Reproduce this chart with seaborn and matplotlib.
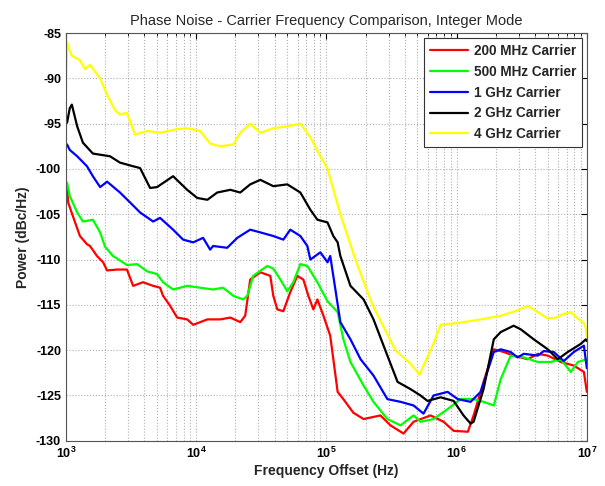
import matplotlib
matplotlib.use("Agg")
import matplotlib.pyplot as plt
import matplotlib.ticker as mticker
import pandas as pd
import seaborn as sns

# Traces (Hz, dBc/Hz)
f_200m = [1.02e3, 1.04e3, 1.13e3, 1.28e3, 1.45e3, 1.53e3, 1.73e3, 1.93e3, 2.07e3, 2.47e3, 2.94e3, 3.28e3,
          3.91e3, 4.67e3, 5.28e3, 5.57e3, 6.31e3, 7.14e3, 8.53e3, 9.49e3, 1.22e4, 1.53e4, 1.83e4, 2.18e4,
          2.38e4, 2.60e4, 3.11e4, 3.71e4, 3.91e4, 4.20e4, 4.67e4, 5.28e4, 5.98e4, 6.65e4, 7.27e4, 7.94e4,
          8.53e4, 9.49e4, 1.07e5, 1.22e5, 1.35e5, 1.61e5, 1.93e5, 2.60e5, 3.11e5, 3.91e5, 4.67e5, 6.31e5,
          7.94e5, 9.49e5, 1.22e6, 1.35e6, 1.61e6, 1.93e6, 2.30e6, 2.74e6, 3.52e6, 4.20e6, 5.01e6, 6.31e6,
          7.94e6, 9.49e6, 1.0e7]
pn_200m = [-101.9, -103.7, -105.2, -107.4, -108.3, -108.5, -109.6, -110.3, -111.2, -111.1, -111.1, -112.9,
           -112.5, -112.9, -113.1, -114.0, -115.1, -116.4, -116.6, -117.2, -116.6, -116.6, -116.4, -116.9,
           -116.2, -112.2, -111.4, -111.8, -114.0, -115.5, -115.7, -113.6, -111.8, -112.2, -114.0, -115.5,
           -114.4, -116.2, -118.4, -124.6, -125.4, -126.9, -127.6, -127.2, -128.3, -129.2, -127.9, -127.2,
           -127.9, -128.9, -129.0, -127.2, -123.5, -119.9, -120.2, -120.6, -121.0, -120.4, -120.6, -121.3,
           -121.7, -122.4, -124.6]

f_500m = [1.02e3, 1.07e3, 1.22e3, 1.35e3, 1.61e3, 1.83e3, 2.0e3, 2.30e3, 2.94e3, 3.52e3, 4.20e3, 5.01e3,
          5.57e3, 6.65e3, 8.53e3, 1.07e4, 1.35e4, 1.61e4, 1.93e4, 2.30e4, 2.47e4, 2.74e4, 3.52e4, 3.91e4,
          4.43e4, 5.01e4, 5.57e4, 6.31e4, 7.14e4, 8.53e4, 1.02e5, 1.22e5, 1.35e5, 1.53e5, 1.93e5, 2.30e5,
          2.94e5, 3.71e5, 4.67e5, 5.28e5, 6.65e5, 8.53e5, 1.07e6, 1.35e6, 1.61e6, 1.93e6, 2.18e6, 2.60e6,
          3.28e6, 4.20e6, 5.28e6, 6.31e6, 7.53e6, 8.53e6, 1.0e7]
pn_500m = [-101.5, -103.0, -104.8, -105.8, -105.6, -107.0, -108.6, -109.6, -110.6, -110.5, -111.3, -111.6,
           -112.5, -113.3, -112.9, -113.1, -113.3, -113.1, -114.0, -114.4, -114.0, -111.8, -110.7, -111.0,
           -112.2, -113.5, -112.5, -110.5, -110.7, -112.5, -114.6, -115.8, -118.8, -121.3, -123.9, -125.7,
           -127.6, -128.3, -127.2, -127.9, -127.6, -126.5, -125.4, -125.4, -125.7, -126.1, -123.2, -120.6,
           -120.8, -121.3, -121.3, -121.0, -122.4, -121.3, -121.0]

f_1g = [1.02e3, 1.07e3, 1.22e3, 1.45e3, 1.61e3, 1.83e3, 2.07e3, 2.60e3, 3.11e3, 3.71e3, 4.67e3, 5.28e3,
        6.65e3, 7.94e3, 9.49e3, 1.13e4, 1.28e4, 1.35e4, 1.73e4, 2.07e4, 2.60e4, 3.11e4, 3.91e4, 4.67e4,
        5.28e4, 6.31e4, 7.14e4, 7.53e4, 8.99e4, 1.02e5, 1.07e5, 1.13e5, 1.28e5, 1.53e5, 1.83e5, 2.30e5,
        2.94e5, 3.71e5, 4.67e5, 5.57e5, 6.65e5, 8.53e5, 1.02e6, 1.28e6, 1.53e6, 1.93e6, 2.18e6, 2.60e6,
        2.94e6, 3.28e6, 4.20e6, 4.67e6, 5.57e6, 6.65e6, 7.94e6, 9.49e6, 1.0e7]
pn_1g = [-97.3, -97.9, -98.6, -99.7, -100.8, -102.0, -101.4, -102.6, -103.7, -104.8, -105.8, -105.4,
         -106.7, -107.8, -108.1, -107.6, -108.9, -108.5, -108.7, -107.6, -106.7, -107.0, -107.4, -107.8,
         -106.7, -107.4, -108.5, -110.0, -109.2, -110.3, -109.6, -111.8, -116.9, -118.8, -121.0, -122.8,
         -125.4, -125.7, -126.1, -127.0, -125.0, -124.6, -125.4, -125.7, -124.6, -120.2, -119.9, -120.2,
         -120.8, -120.4, -120.6, -120.1, -120.2, -121.2, -120.2, -119.5, -122.0]

f_2g = [1.02e3, 1.07e3, 1.11e3, 1.22e3, 1.35e3, 1.61e3, 2.18e3, 2.60e3, 3.28e3, 3.71e3, 4.43e3, 5.01e3,
        6.65e3, 8.53e3, 1.02e4, 1.22e4, 1.45e4, 1.83e4, 2.18e4, 2.60e4, 3.11e4, 3.91e4, 5.01e4, 6.31e4,
        7.53e4, 8.53e4, 1.02e5, 1.13e5, 1.22e5, 1.28e5, 1.53e5, 1.93e5, 2.30e5, 2.94e5, 3.52e5, 4.43e5,
        5.28e5, 5.98e5, 7.53e5, 9.49e5, 1.13e6, 1.28e6, 1.35e6, 1.61e6, 1.93e6, 2.18e6, 2.74e6, 3.11e6,
        3.91e6, 5.01e6, 5.98e6, 7.14e6, 8.99e6, 9.82e6, 1.0e7]
pn_2g = [-94.9, -93.3, -92.9, -95.3, -97.1, -98.3, -98.6, -99.3, -99.7, -99.9, -102.1, -102.0,
         -100.8, -102.3, -103.2, -103.4, -102.6, -102.3, -102.6, -101.7, -101.2, -101.9, -101.7, -102.6,
         -104.5, -105.6, -105.9, -107.4, -108.1, -109.6, -112.9, -114.4, -116.6, -120.6, -123.5, -124.3,
         -125.0, -125.6, -125.2, -125.6, -127.2, -128.1, -127.9, -124.3, -118.8, -118.0, -117.3, -117.7,
         -118.8, -119.9, -121.0, -120.2, -119.3, -118.8, -119.0]

f_4g = [1.0e3, 1.02e3, 1.04e3, 1.11e3, 1.28e3, 1.40e3, 1.53e3, 1.83e3, 2.10e3, 2.38e3, 2.60e3, 2.94e3,
        3.39e3, 4.20e3, 5.28e3, 7.14e3, 8.53e3, 1.07e4, 1.28e4, 1.53e4, 1.93e4, 2.18e4, 2.60e4, 3.11e4,
        3.91e4, 5.01e4, 6.31e4, 7.53e4, 8.53e4, 1.02e5, 1.28e5, 1.67e5, 2.26e5, 3.39e5, 4.43e5, 5.19e5,
        6.54e5, 7.53e5, 1.02e6, 1.53e6, 2.18e6, 2.94e6, 3.52e6, 4.20e6, 5.01e6, 5.78e6, 6.65e6, 7.53e6,
        8.53e6, 9.49e6, 9.82e6, 1.0e7]
pn_4g = [-91.3, -86.0, -86.5, -87.5, -88.0, -89.0, -88.5, -90.0, -92.0, -93.5, -94.0, -93.8,
         -96.2, -95.8, -96.0, -95.6, -95.5, -95.8, -97.2, -97.5, -97.3, -96.0, -95.0, -96.0,
         -95.5, -95.3, -95.0, -96.5, -98.0, -100.0, -105.0, -110.0, -115.0, -120.0, -121.5, -122.7,
         -119.5, -117.2, -117.0, -116.6, -116.2, -115.6, -115.1, -115.8, -116.5, -116.4, -116.0, -115.8,
         -116.5, -117.0, -117.6, -118.5]

labels = ["200 MHz Carrier", "500 MHz Carrier", "1 GHz Carrier", "2 GHz Carrier", "4 GHz Carrier"]
colors = ["#ff0000", "#00ff00", "#0000ff", "#000000", "#ffff00"]

freqs = [f_200m, f_500m, f_1g, f_2g, f_4g]
noise = [pn_200m, pn_500m, pn_1g, pn_2g, pn_4g]
df = pd.concat(
    [pd.DataFrame({"freq": f, "pn": p, "carrier": lab})
     for f, p, lab in zip(freqs, noise, labels)],
    ignore_index=True,
)

sns.set_style("white")
plt.rcParams["font.family"] = ["Liberation Sans", "DejaVu Sans"]
plt.rcParams["axes.unicode_minus"] = False

fig = plt.figure(figsize=(6.05, 4.86), dpi=100)
ax = fig.add_axes([0.109, 0.093, 0.861, 0.839])

sns.lineplot(data=df, x="freq", y="pn", hue="carrier", hue_order=labels,
             palette=dict(zip(labels, colors)), sort=False, estimator=None,
             units="carrier", linewidth=1.6, ax=ax)

ax.set_xscale("log")
ax.set_xlim(1e3, 1e7)
ax.set_ylim(-130, -85)
ax.yaxis.set_major_locator(mticker.MultipleLocator(5))
ax.xaxis.set_minor_locator(mticker.LogLocator(base=10, subs=range(2, 10)))
ax.xaxis.set_minor_formatter(mticker.NullFormatter())

ax.grid(True, which="major", axis="both", color="#b0b0b0", linestyle=":", linewidth=0.8)
ax.grid(True, which="minor", axis="x", color="#b0b0b0", linestyle=":", linewidth=0.8)

ax.tick_params(which="both", direction="in", top=True, right=True, labelsize=9, colors="#000000")
ax.tick_params(which="major", length=4)
ax.tick_params(which="minor", length=2)
for lab in ax.get_xticklabels() + ax.get_yticklabels():
    lab.set_fontweight("bold")
for sp in ax.spines.values():
    sp.set_color("#555555")
    sp.set_linewidth(0.8)

ax.set_xlabel("Frequency Offset (Hz)", fontsize=10, fontweight="bold", labelpad=2)
ax.set_ylabel("Power (dBc/Hz)", fontsize=10, fontweight="bold", labelpad=4)
ax.set_title("Phase Noise - Carrier Frequency Comparison, Integer Mode", fontsize=10.5, pad=6)

leg = ax.legend(loc="upper right", frameon=True, fancybox=False,
                handlelength=2.8, borderpad=0.45, labelspacing=0.5, borderaxespad=0.35,
                handletextpad=0.4, prop={"weight": "bold", "size": 9.8})
leg.get_frame().set_edgecolor("#333333")
leg.get_frame().set_linewidth(0.8)
leg.get_frame().set_alpha(1)

fig.savefig("out.png", dpi=100)
